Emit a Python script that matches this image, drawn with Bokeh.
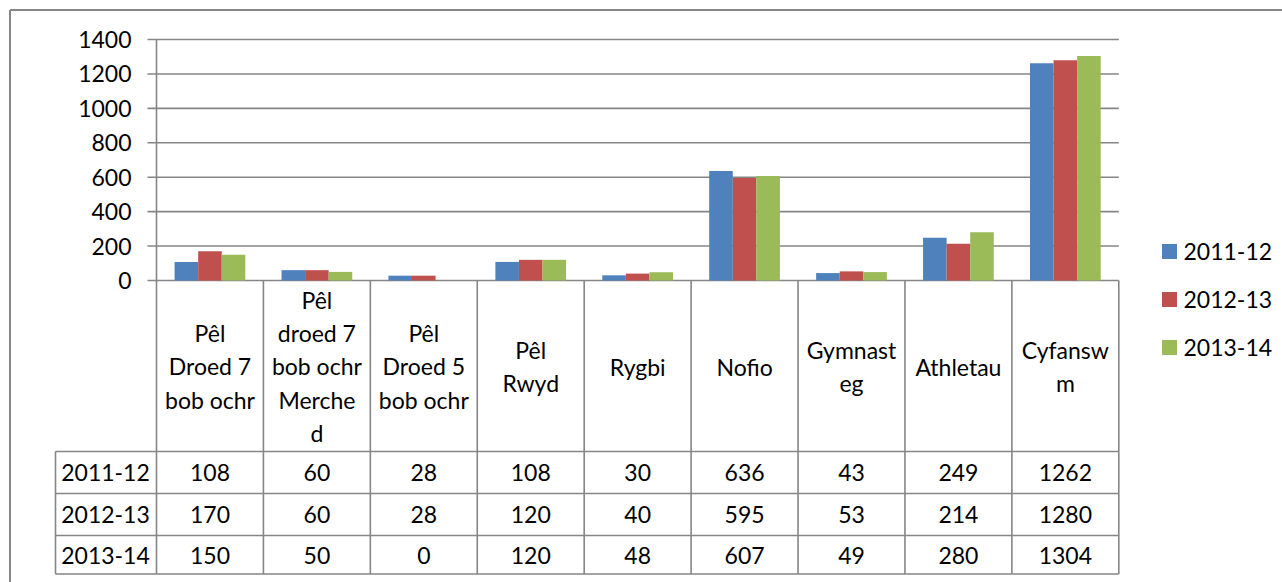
from bokeh.plotting import figure
from bokeh.models import Range1d
from bokeh.core.properties import value
from bokeh.embed import file_html
from bokeh.resources import INLINE

# ---------------- data ----------------
categories = ["Pêl Droed 7 bob ochr", "Pêl droed 7 bob ochr Merched", "Pêl Droed 5 bob ochr",
              "Pêl Rwyd", "Rygbi", "Nofio", "Gymnasteg", "Athletau", "Cyfanswm"]
category_labels = ["Pêl\nDroed 7\nbob ochr", "Pêl\ndroed 7\nbob ochr\nMerche\nd", "Pêl\nDroed 5\nbob ochr",
                   "Pêl\nRwyd", "Rygbi", "Nofio", "Gymnast\neg", "Athletau", "Cyfansw\nm"]
series_names = ["2011-12", "2012-13", "2013-14"]
values_2011_12 = [108, 60, 28, 108, 30, 636, 43, 249, 1262]
values_2012_13 = [170, 60, 28, 120, 40, 595, 53, 214, 1280]
values_2013_14 = [150, 50, 0, 120, 48, 607, 49, 280, 1304]
y_ticks = [0, 200, 400, 600, 800, 1000, 1200, 1400]

series_values = [values_2011_12, values_2012_13, values_2013_14]
colors = ["#4F81BD", "#C0504D", "#9BBB59"]

# ---------------- layout (page pixels) ----------------
W, H = 1282, 582
ORIGIN = 0                    # page position of the canvas
PX0, PX9 = 156.0, 1118.3      # x of category boundaries 0 and 9
PY0, PYTOP = 280.0, 39.0      # y of value 0 and 1400
sx = (PX9 - PX0) / 9.0
sy = (PY0 - PYTOP) / 1400.0


def dx(X):
    return (X - PX0) / sx


def dy(Y):
    return (PY0 - Y) / sy


FONT = value("Lato")
FS = "23px"
GRID = "#868686"

p = figure(width=W, height=H,
           x_range=Range1d(dx(ORIGIN), dx(ORIGIN + W)), y_range=Range1d(dy(ORIGIN + H), dy(ORIGIN)),
           x_axis_location=None, y_axis_location=None,
           output_backend="svg", toolbar_location=None, min_border=0)
p.grid.visible = False
p.outline_line_color = None
p.background_fill_color = "white"
p.border_fill_color = "white"

# outer chart border (top and left visible)
p.segment(x0=[dx(9.5), dx(9.5)], y0=[dy(9.5), dy(9.5)], x1=[dx(1400), dx(9.5)], y1=[dy(9.5), dy(700)],
          line_color="#878787", line_width=2)

# gridlines (+ tick marks)
n = len(categories)
p.segment(x0=[dx(147)] * len(y_ticks), x1=[float(n)] * len(y_ticks), y0=y_ticks, y1=y_ticks,
          line_color=GRID, line_width=1.6)

# y tick labels
p.text(x=[dx(131)] * len(y_ticks), y=y_ticks, text=[str(t) for t in y_ticks],
       text_align="right", text_baseline="middle", text_font=FONT, text_font_size=FS, text_color="black")

# bars
bw = 0.2205
offsets = [-bw, 0.0, bw]
for vals, off, col, name in zip(series_values, offsets, colors, series_names):
    p.vbar(x=[i + 0.5 + off for i in range(n)], top=vals, bottom=0, width=bw,
           fill_color=col, line_color=None)

# ---------------- data table ----------------
row_lines_px = [451, 493, 535, 573.5]
row_centers_px = [472, 514, 554.5]
table_left_px = 55
y_bottom = dy(573.5)

# y axis line extended through table header
p.segment(x0=[0.0], x1=[0.0], y0=[1400], y1=[y_bottom], line_color=GRID, line_width=1.6)
# vertical category boundaries
p.segment(x0=list(range(1, n + 1)), x1=list(range(1, n + 1)), y0=[0] * n, y1=[y_bottom] * n,
          line_color=GRID, line_width=1.6)
# row label column left border
p.segment(x0=[dx(table_left_px)], x1=[dx(table_left_px)], y0=[dy(451)], y1=[y_bottom],
          line_color=GRID, line_width=1.6)
# horizontal row lines
p.segment(x0=[dx(table_left_px)] * len(row_lines_px), x1=[float(n)] * len(row_lines_px),
          y0=[dy(v) for v in row_lines_px], y1=[dy(v) for v in row_lines_px],
          line_color=GRID, line_width=1.6)

# category headers
p.text(x=[i + 0.5 for i in range(n)], y=[dy(366)] * n, text=category_labels,
       text_align="center", text_baseline="middle", text_line_height=1.185,
       text_font=FONT, text_font_size=FS, text_color="black")

# row labels and values
for r, (name, vals) in enumerate(zip(series_names, series_values)):
    yc = dy(row_centers_px[r])
    p.text(x=[dx(105)], y=[yc], text=[name], text_align="center", text_baseline="middle",
           text_font=FONT, text_font_size=FS, text_color="black")
    p.text(x=[i + 0.5 for i in range(n)], y=[yc] * n, text=[str(v) for v in vals],
           text_align="center", text_baseline="middle",
           text_font=FONT, text_font_size=FS, text_color="black")

# ---------------- legend ----------------
leg_y = [dy(251), dy(299), dy(347)]
p.rect(x=[dx(1169)] * 3, y=leg_y, width=15, height=15, width_units="screen", height_units="screen",
       fill_color=colors, line_color=None)
p.text(x=[dx(1183)] * 3, y=leg_y, text=series_names, text_align="left", text_baseline="middle",
       text_font=FONT, text_font_size=FS, text_color="black")

open("out.html", "w").write(file_html(p, INLINE))
